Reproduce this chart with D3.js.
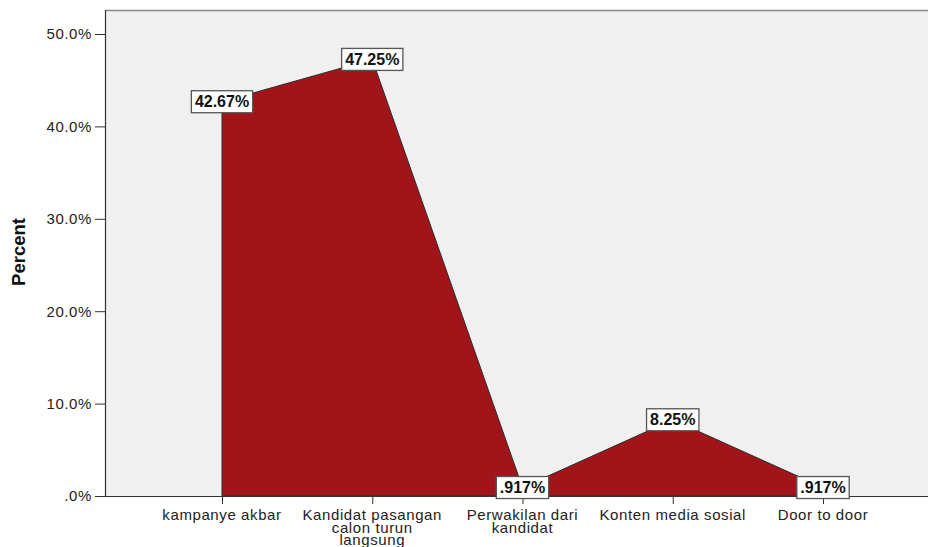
<!DOCTYPE html>
<html>
<head>
<meta charset="utf-8">
<script src="https://cdn.jsdelivr.net/npm/d3@7"></script>
<style>
  body { margin: 0; background: #fff; }
  svg { display: block; font-family: "Liberation Sans", Arial, sans-serif; }
</style>
</head>
<body>
<script>
// data
const categories = [
  ['kampanye akbar'],
  ['Kandidat pasangan', 'calon turun', 'langsung'],
  ['Perwakilan dari', 'kandidat'],
  ['Konten media sosial'],
  ['Door to door']
];
const percents = [42.67, 47.25, 0.917, 8.25, 0.917];
const valueLabels = ['42.67%', '47.25%', '.917%', '8.25%', '.917%'];
const yTicks = [0, 10, 20, 30, 40, 50];
const yTickLabels = ['.0%', '10.0%', '20.0%', '30.0%', '40.0%', '50.0%'];

const W = 928, H = 547;
const plotL = 105, plotT = 10, plotB = 496, plotR = 940;

const svg = d3.select('body').append('svg')
  .attr('width', W)
  .attr('height', H);

const keys = categories.map(c => c.join(' '));

const x = d3.scalePoint()
  .domain(keys)
  .range([222, 823]);

const y = d3.scaleLinear()
  .domain([0, 50])
  .range([plotB, plotB - 50 * 9.24]);

// plot background
svg.append('rect')
  .attr('x', plotL).attr('y', plotT)
  .attr('width', plotR - plotL).attr('height', plotB - plotT)
  .attr('fill', '#f0f0f0');

// top frame line
svg.append('line')
  .attr('x1', plotL).attr('x2', plotR)
  .attr('y1', plotT + 0.5).attr('y2', plotT + 0.5)
  .attr('stroke', '#8a8a8a').attr('stroke-width', 1.5);

// area
const pts = keys.map((k, i) => ({ k: k, v: percents[i] }));
const area = d3.area()
  .x(d => x(d.k))
  .y0(y(0))
  .y1(d => y(d.v));

svg.append('path')
  .datum(pts)
  .attr('d', area)
  .attr('fill', '#a1151a')
  .attr('stroke', '#2a2a2a')
  .attr('stroke-width', 1);

// y axis
const yAxis = d3.axisLeft(y)
  .tickValues(yTicks)
  .tickSize(10)
  .tickPadding(3)
  .tickFormat((d, i) => yTickLabels[i]);

const gy = svg.append('g')
  .attr('transform', `translate(${plotL},0)`)
  .call(yAxis);
gy.select('.domain').remove();
gy.selectAll('line').attr('stroke', '#333');
gy.selectAll('text')
  .attr('font-size', 15)
  .attr('letter-spacing', 0.6)
  .attr('font-family', '"Liberation Sans", Arial, sans-serif')
  .attr('fill', '#222');

svg.append('line')
  .attr('x1', plotL + 0.5).attr('x2', plotL + 0.5)
  .attr('y1', plotT).attr('y2', plotB)
  .attr('stroke', '#333').attr('stroke-width', 1.2);

// x axis
const xAxis = d3.axisBottom(x)
  .tickSize(8)
  .tickFormat('');

const gx = svg.append('g')
  .attr('transform', `translate(0,${plotB})`)
  .call(xAxis);
gx.select('.domain').remove();
gx.selectAll('line').attr('stroke', '#333');

svg.append('line')
  .attr('x1', plotL).attr('x2', plotR)
  .attr('y1', plotB + 0.5).attr('y2', plotB + 0.5)
  .attr('stroke', '#333').attr('stroke-width', 1.2);

// category labels, multi-line (tight line spacing as in the original)
keys.forEach((k, i) => {
  const t = svg.append('text')
    .attr('x', x(k))
    .attr('y', 520)
    .attr('text-anchor', 'middle')
    .attr('font-size', 15)
    .attr('letter-spacing', 0.6)
    .attr('fill', '#222');
  categories[i].forEach((line, j) => {
    t.append('tspan')
      .attr('x', x(k))
      .attr('dy', j === 0 ? 0 : 12.5)
      .text(line);
  });
});

// y axis title
svg.append('text')
  .attr('transform', 'translate(25,252) rotate(-90)')
  .attr('text-anchor', 'middle')
  .attr('font-size', 18.5)
  .attr('font-weight', 'bold')
  .attr('fill', '#111')
  .text('Percent');

// value labels in boxes
pts.forEach((d, i) => {
  const g = svg.append('g')
    .attr('transform', `translate(${x(d.k)},${y(d.v)})`);
  const txt = g.append('text')
    .attr('text-anchor', 'middle')
    .attr('y', 5.5)
    .attr('font-size', 16)
    .attr('font-weight', 'bold')
    .attr('fill', '#111')
    .text(valueLabels[i]);
  const bb = txt.node().getBBox();
  g.insert('rect', 'text')
    .attr('x', bb.x - 3.5)
    .attr('y', -11)
    .attr('width', bb.width + 7)
    .attr('height', 22)
    .attr('fill', '#fff')
    .attr('stroke', '#555')
    .attr('stroke-width', 1.3);
});
</script>
</body>
</html>
